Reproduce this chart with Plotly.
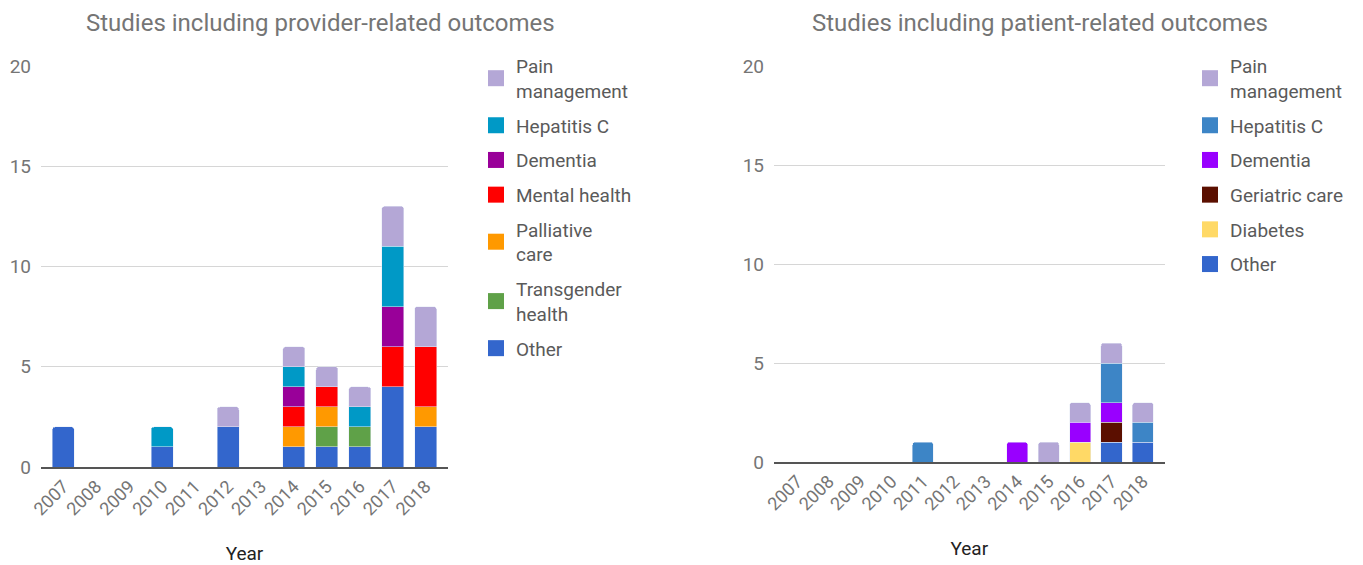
import plotly.graph_objects as go

years = [str(y) for y in range(2007, 2019)]

# Provider-related outcomes (left)
prov_other       = [2, 0, 0, 1, 0, 2, 0, 1, 1, 1, 4, 2]
prov_transgender = [0, 0, 0, 0, 0, 0, 0, 0, 1, 1, 0, 0]
prov_palliative  = [0, 0, 0, 0, 0, 0, 0, 1, 1, 0, 0, 1]
prov_mental      = [0, 0, 0, 0, 0, 0, 0, 1, 1, 0, 2, 3]
prov_dementia    = [0, 0, 0, 0, 0, 0, 0, 1, 0, 0, 2, 0]
prov_hepc        = [0, 0, 0, 1, 0, 0, 0, 1, 0, 1, 3, 0]
prov_pain        = [0, 0, 0, 0, 0, 1, 0, 1, 1, 1, 2, 2]

# Patient-related outcomes (right)
pat_other      = [0, 0, 0, 0, 0, 0, 0, 0, 0, 0, 1, 1]
pat_diabetes   = [0, 0, 0, 0, 0, 0, 0, 0, 0, 1, 0, 0]
pat_geriatric  = [0, 0, 0, 0, 0, 0, 0, 0, 0, 0, 1, 0]
pat_dementia   = [0, 0, 0, 0, 0, 0, 0, 1, 0, 1, 1, 0]
pat_hepc       = [0, 0, 0, 0, 1, 0, 0, 0, 0, 0, 2, 1]
pat_pain       = [0, 0, 0, 0, 0, 0, 0, 0, 1, 1, 1, 1]

left_series = [
    ("Other", prov_other, "#3366cc"),
    ("Transgender<br>health", prov_transgender, "#5fa148"),
    ("Palliative<br>care", prov_palliative, "#ff9900"),
    ("Mental health", prov_mental, "#ff0000"),
    ("Dementia", prov_dementia, "#990099"),
    ("Hepatitis C", prov_hepc, "#0099c6"),
    ("Pain<br>management", prov_pain, "#b4a7d6"),
]
right_series = [
    ("Other", pat_other, "#3366cc"),
    ("Diabetes", pat_diabetes, "#ffd966"),
    ("Geriatric care", pat_geriatric, "#5b0f00"),
    ("Dementia", pat_dementia, "#9900ff"),
    ("Hepatitis C", pat_hepc, "#3d85c6"),
    ("Pain<br>management", pat_pain, "#b4a7d6"),
]

fig = go.Figure()

def add_series(series, xa, ya, leg, prefix):
    n = len(series)
    for i, (name, vals, col) in enumerate(series):
        fig.add_trace(go.Bar(x=years, y=[v if v else None for v in vals], name=name,
                             marker_color=col, xaxis=xa, yaxis=ya, showlegend=False,
                             legendgroup="%s%d" % (prefix, i)))
        # legend entry with a larger square swatch
        fig.add_trace(go.Scatter(x=[None], y=[None], mode="markers", name=name,
                                 marker=dict(symbol="square", size=17, color=col),
                                 xaxis=xa, yaxis=ya, legend=leg, legendrank=n - i,
                                 legendgroup="%s%d" % (prefix, i), hoverinfo="skip"))

add_series(left_series, "x", "y", "legend", "L")
add_series(right_series, "x2", "y2", "legend2", "R")

W, H = 1363, 565
tick_font = dict(family="Roboto", size=18, color="#757575")

def xax(domain, rng, anchor):
    return dict(domain=domain, type="category", range=rng, tickangle=-45,
                tickfont=tick_font, showgrid=False, showline=True,
                linecolor="#555555", linewidth=2, ticks="", automargin=False,
                anchor=anchor,
                title=dict(text="Year", font=dict(family="Roboto", size=19, color="#222222"),
                           standoff=28))

def yax(domain, anchor):
    return dict(domain=domain, range=[0, 20], tickvals=[0, 5, 10, 15, 20],
                tickfont=dict(family="Roboto", size=19, color="#757575"),
                showgrid=True, gridcolor="#d6d6d6", automargin=False,
                gridwidth=1, zeroline=False, showline=False, ticks="",
                ticklabelstandoff=9, anchor=anchor)

legend_common = dict(font=dict(family="Roboto", size=19, color="#5a5a5a"),
                     traceorder="grouped", tracegroupgap=7,
                     yanchor="top", xanchor="left", itemclick=False,
                     itemdoubleclick=False, bgcolor="rgba(0,0,0,0)")

fig.update_layout(
    width=W, height=H, autosize=False,
    margin=dict(l=0, r=0, t=0, b=0),
    paper_bgcolor="white", plot_bgcolor="white",
    barmode="stack", bargap=0.33, barcornerradius=3,
    font=dict(family="Roboto"),
    xaxis=xax([41 / W, 448 / W], [-0.68, 11.68], "y"),
    yaxis=yax([1 - 467 / H, 1 - 66 / H], "x"),
    xaxis2=xax([774 / W, 1164.6 / W], [-0.74, 11.69], "y2"),
    yaxis2=yax([1 - 462 / H, 1 - 66 / H], "x2"),
    legend=dict(x=476 / W, y=1 - 47 / H, **legend_common),
    legend2=dict(x=1190 / W, y=1 - 47 / H, **legend_common),
    annotations=[
        dict(text="Studies including provider-related outcomes", x=320 / W, y=1 - 23 / H,
             xref="paper", yref="paper", showarrow=False, xanchor="center", yanchor="middle",
             font=dict(family="Roboto", size=24, color="#757575")),
        dict(text="Studies including patient-related outcomes", x=1040 / W, y=1 - 23 / H,
             xref="paper", yref="paper", showarrow=False, xanchor="center", yanchor="middle",
             font=dict(family="Roboto", size=24, color="#757575")),
    ],
    showlegend=True,
)

fig.write_html("out.html")
